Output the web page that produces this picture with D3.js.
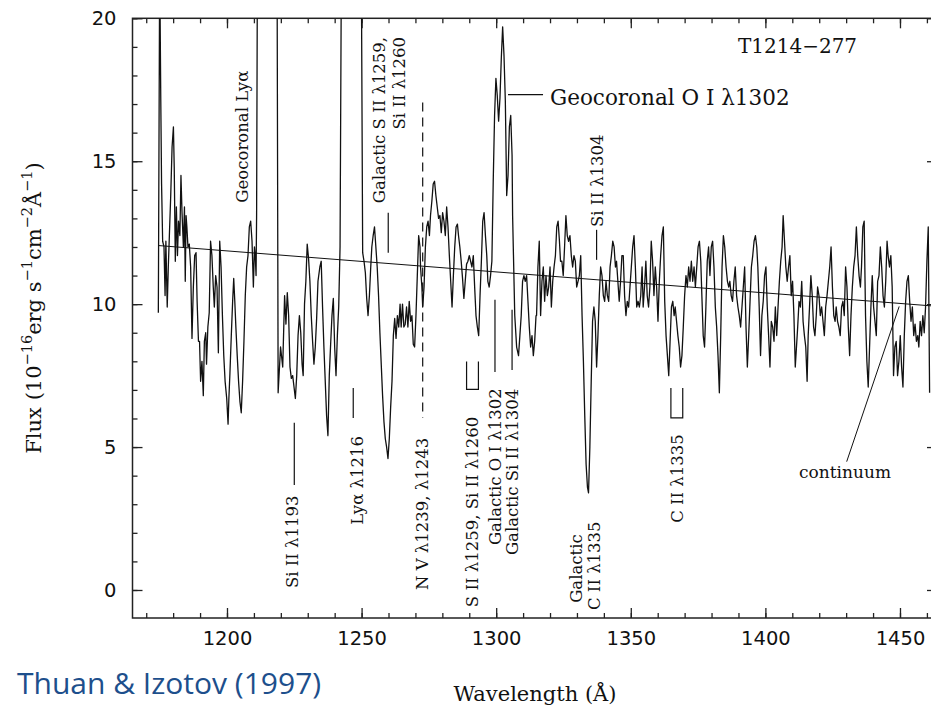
<!DOCTYPE html>
<html>
<head>
<meta charset="utf-8">
<script src="https://cdn.jsdelivr.net/npm/d3@7"></script>
<style>
  body { margin: 0; background: #fff; }
  text { fill: #111; }
</style>
</head>
<body>
<svg id="chart" width="931" height="710"></svg>
<script>
// spectrum of T1214-277 in chunks (wavelength A, flux 1e-16)
// 22 = off the top of the plot (clipped)
let specA = [[1174.5,9.7],[1175.0,22],[1175.4,17.2],[1175.7,14.2],[1176.1,12.2],[1176.6,12.0],[1177.0,10.3],[1177.3,12.2],[1177.8,9.9],[1178.2,11.3],[1178.6,12.4],[1179.1,13.8],[1179.6,15.5],[1180.1,16.2],[1180.4,14.8],[1180.8,11.5],[1181.2,13.4],[1181.6,11.7],[1182.0,12.9],[1182.5,12.4],[1182.9,14.5],[1183.3,13.2],[1183.8,12.0],[1184.2,13.4],[1184.5,10.8],[1184.8,13.1],[1185.1,12.7],[1185.5,12.0],[1186.0,12.1],[1186.5,11.3],[1187.0,8.8],[1187.5,10.6],[1188.0,11.7],[1188.5,11.8],[1188.9,10.1],[1189.4,8.7],[1189.8,8.7],[1190.2,7.3],[1190.7,8.0],[1191.2,6.8],[1191.6,8.7],[1192.1,9.0],[1192.4,7.9],[1192.9,9.2],[1193.4,9.7],[1193.9,12.2],[1194.4,11.7],[1194.9,10.6],[1195.3,9.9],[1195.8,11.0],[1196.3,10.6],[1196.8,8.3],[1197.3,12.2],[1197.8,11.3],[1198.3,9.6],[1198.8,8.2],[1199.3,7.3],[1199.9,6.7],[1200.4,5.8],[1200.7,6.7],[1201.1,7.6],[1201.6,8.9],[1202.1,10.1],[1202.5,10.9],[1202.9,10.1],[1203.3,9.2],[1203.8,8.2],[1204.3,7.3],[1204.8,6.6],[1205.3,6.2],[1205.8,7.3],[1206.3,8.7],[1206.8,10.3],[1207.3,11.3],[1207.8,11.7],[1208.3,12.7],[1208.8,12.9],[1209.3,12.2],[1209.8,10.6],[1210.2,12.0],[1210.5,11.7],[1210.8,11.0],[1211.0,13.1],[1211.3,22]];

let specB = [[1218.6,22],[1219.0,6.9],[1219.9,8.5],[1220.7,7.8],[1221.4,10.3],[1221.9,9.3],[1222.4,10.4],[1222.9,9.6],[1223.4,7.8],[1223.9,7.4],[1224.4,7.5],[1224.9,7.1],[1225.4,6.7],[1225.9,7.5],[1226.4,8.9],[1226.9,9.6],[1227.4,9.0],[1227.9,7.9],[1228.3,7.5],[1228.8,10.0],[1229.3,10.8],[1229.8,12.1],[1230.3,11.6],[1230.8,10.8],[1231.3,9.6],[1231.8,8.7],[1232.3,7.9],[1232.8,8.5],[1233.3,9.5],[1233.8,10.8],[1234.5,11.3],[1235.0,11.5],[1235.5,9.9],[1236.0,8.5],[1236.5,7.3],[1237.0,6.1],[1237.5,5.4],[1238.0,7.5],[1238.5,8.6],[1239.0,9.6],[1239.5,10.2],[1240.0,8.5],[1240.5,7.5],[1241.0,8.9],[1241.5,9.9],[1242.0,12.0],[1242.5,22],[1249.9,22],[1250.4,11.8],[1250.9,11.5],[1251.4,11.1],[1251.9,10.2],[1252.4,9.6],[1252.9,10.3],[1253.4,11.3],[1253.8,12.0],[1254.3,12.4],[1254.8,12.7],[1255.3,12.0],[1255.8,11.3],[1256.3,10.3],[1256.8,9.0],[1257.3,7.9],[1257.8,6.8],[1258.3,5.9],[1258.8,5.3],[1259.3,5.0],[1259.8,4.6],[1260.3,5.3],[1260.8,6.4],[1261.3,7.3],[1261.8,8.9],[1262.3,9.5],[1262.8,8.8],[1263.3,9.6],[1263.8,9.2],[1264.3,10.0],[1264.7,9.2],[1265.2,10.0],[1265.7,9.2],[1266.2,9.3],[1266.7,9.9],[1267.2,9.2]];

let specC = [[1267.7,10.1],[1268.2,9.4],[1268.7,9.6],[1269.2,8.6],[1269.7,8.5],[1270.2,9.6],[1270.7,11.0],[1271.2,12.4],[1271.7,12.0],[1271.9,11.3],[1272.4,10.6],[1272.7,9.9],[1273.2,10.6],[1273.7,12.0],[1274.2,12.7],[1274.7,12.9],[1275.2,12.4],[1275.6,13.1],[1276.1,13.6],[1276.6,14.2],[1277.1,14.3],[1277.6,13.8],[1278.1,13.4],[1278.6,13.0],[1279.1,13.1],[1279.6,12.5],[1280.1,13.2],[1280.6,12.9],[1281.1,12.4],[1281.6,13.4],[1282.1,12.7],[1282.6,11.7],[1283.1,10.8],[1283.6,9.9],[1284.1,11.0],[1284.6,12.0],[1285.1,12.7],[1285.6,12.8],[1286.0,12.4],[1286.5,12.0],[1287.0,11.5],[1287.5,10.9],[1288.0,10.2],[1288.5,10.8],[1289.0,11.4],[1289.5,11.5],[1290.0,11.7],[1290.5,11.5],[1291.0,11.3],[1291.5,11.7],[1292.0,10.6],[1292.5,9.6],[1293.0,9.2],[1293.5,8.9],[1294.0,10.3],[1294.5,11.5],[1295.0,12.9],[1295.5,13.2],[1296.0,12.4],[1296.5,11.7],[1296.9,10.8],[1297.4,10.6],[1297.9,11.0],[1298.4,11.5],[1298.9,14.3],[1299.4,16.6],[1299.9,17.9],[1300.4,17.3],[1300.9,16.4],[1301.4,17.2],[1301.9,18.6],[1302.4,19.7],[1302.9,18.7],[1303.4,17.1],[1303.9,13.8],[1304.4,14.5],[1304.9,16.2],[1305.4,16.6],[1305.9,15.2],[1306.1,13.1],[1306.9,9.6],[1307.6,8.5],[1308.3,8.2],[1308.8,8.9],[1309.3,9.6],[1309.8,10.8],[1310.3,11.0],[1310.8,10.8],[1311.3,11.0],[1311.8,10.1],[1312.3,9.2],[1312.8,8.5],[1313.3,8.9],[1313.8,8.2],[1314.3,8.7],[1314.8,9.6]];

let specD = [[1315.0,9.6],[1315.5,11.3],[1316.0,12.2],[1316.5,9.6],[1317.0,10.8],[1317.5,11.3],[1318.0,10.1],[1318.5,11.0],[1319.0,10.3],[1319.5,10.6],[1320.0,11.3],[1320.5,9.9],[1321.0,10.8],[1321.5,11.3],[1322.0,11.7],[1322.5,12.7],[1323.0,12.9],[1323.5,12.2],[1323.9,11.5],[1324.4,11.5],[1324.9,11.0],[1325.4,12.0],[1325.9,13.1],[1326.4,12.4],[1326.9,12.2],[1327.4,12.4],[1327.9,11.7],[1328.4,11.3],[1328.9,11.7],[1329.4,11.5],[1329.9,10.6],[1330.4,10.8],[1330.9,11.0],[1331.4,11.7],[1331.9,9.6],[1332.4,8.0],[1332.9,6.1],[1333.4,4.4],[1333.9,3.6],[1334.3,3.4],[1334.8,5.0],[1335.3,7.3],[1335.8,9.4],[1336.3,9.9],[1336.8,9.4],[1337.3,7.8],[1337.8,8.9],[1338.3,10.3],[1338.8,11.3],[1339.3,11.0],[1339.8,10.3],[1340.3,10.1],[1340.8,10.8],[1341.3,10.3],[1341.8,10.1],[1342.3,11.3],[1342.8,11.7],[1343.3,12.2],[1343.8,12.0],[1344.3,11.3],[1344.7,11.5],[1345.2,10.8],[1345.7,10.1],[1346.2,10.8],[1346.7,11.7],[1347.2,11.7],[1347.7,10.3],[1348.2,9.6],[1348.7,10.1],[1349.2,9.9],[1349.7,10.6],[1350.2,11.3],[1350.7,12.0],[1351.2,12.4],[1351.7,11.3],[1352.2,9.9],[1352.7,10.1],[1353.2,9.9],[1353.7,10.3],[1354.2,11.3],[1354.6,9.9],[1355.1,10.6],[1355.6,11.5],[1356.1,10.3],[1356.6,9.9],[1357.1,10.6],[1357.6,12.2],[1358.1,11.5],[1358.6,10.3],[1359.1,11.3],[1359.6,10.6],[1360.1,9.4],[1360.6,10.8],[1361.1,11.7],[1361.6,12.4],[1362.1,12.7]];

let specE = [[1362.6,10.1],[1363.1,8.9],[1363.6,8.2],[1364.1,7.5],[1364.6,8.7],[1365.1,9.9],[1365.6,10.1],[1366.1,9.6],[1366.5,9.9],[1367.0,9.4],[1367.5,8.9],[1368.0,8.5],[1368.5,7.8],[1369.0,8.2],[1369.5,9.2],[1370.0,10.3],[1370.5,11.0],[1371.0,10.6],[1371.5,11.3],[1372.0,10.8],[1372.5,11.5],[1373.0,10.8],[1373.5,11.3],[1374.0,10.6],[1374.5,11.3],[1375.0,12.0],[1375.5,12.2],[1376.0,11.5],[1376.4,10.3],[1376.9,8.9],[1377.4,8.5],[1377.9,9.9],[1378.4,11.5],[1378.9,12.0],[1379.4,11.0],[1379.9,12.0],[1380.4,12.2],[1380.9,11.3],[1381.4,9.9],[1381.9,9.2],[1382.4,8.2],[1382.9,6.9],[1383.4,8.9],[1383.9,11.3],[1384.4,12.4],[1384.9,12.0],[1385.4,11.3],[1385.9,10.8],[1386.4,10.6],[1386.8,10.8],[1387.3,10.3],[1387.8,10.1],[1388.3,10.8],[1388.8,11.3],[1389.3,10.3],[1389.8,9.9],[1390.3,9.6],[1390.8,9.2],[1391.3,9.9],[1391.8,10.6],[1392.3,11.3],[1392.8,9.2],[1393.3,7.8],[1393.8,8.9],[1394.3,10.1],[1394.8,11.3],[1395.3,11.7],[1395.8,12.2],[1396.3,12.4],[1396.8,12.0],[1397.2,11.3],[1397.7,9.9],[1398.2,8.2],[1398.7,9.6],[1399.2,10.1],[1399.7,11.0],[1400.2,11.3],[1400.7,9.9],[1401.2,8.9],[1401.7,7.8],[1402.2,9.4],[1402.7,9.2],[1403.2,8.7],[1403.7,9.9],[1404.2,8.9],[1404.7,9.9],[1405.2,10.8],[1405.7,11.5],[1406.2,12.0],[1406.6,13.1],[1407.1,12.2],[1407.6,11.3],[1408.1,10.8],[1408.6,11.3],[1409.1,11.7],[1409.6,10.3],[1410.1,10.8],[1410.6,9.6],[1411.1,7.8]];

let specF = [[1412.0,9.2],[1412.5,10.1],[1413.0,9.9],[1413.5,10.8],[1414.0,9.4],[1414.5,8.9],[1415.0,8.5],[1415.5,7.3],[1415.9,8.9],[1416.4,9.9],[1416.9,11.0],[1417.4,10.3],[1417.9,9.2],[1418.4,8.9],[1418.9,9.6],[1419.4,10.6],[1419.9,10.3],[1420.4,9.6],[1420.9,9.9],[1421.4,9.4],[1421.9,8.9],[1422.4,9.9],[1422.9,10.3],[1423.4,10.8],[1423.9,11.3],[1424.4,12.0],[1424.9,10.6],[1425.4,9.6],[1425.9,9.4],[1426.3,9.9],[1426.8,9.4],[1427.3,9.2],[1427.8,8.9],[1428.3,9.9],[1428.8,10.1],[1429.3,9.6],[1429.8,11.3],[1430.3,10.6],[1430.8,9.2],[1431.3,8.2],[1431.8,9.6],[1432.3,10.6],[1432.8,11.3],[1433.3,11.7],[1433.8,12.7],[1434.3,11.7],[1434.8,11.0],[1435.3,10.6],[1435.7,11.3],[1436.2,12.7],[1436.7,12.9],[1437.2,9.6],[1437.7,8.0],[1438.2,7.1],[1438.7,8.5],[1439.2,9.9],[1439.7,11.0],[1440.2,9.9],[1440.7,9.4],[1441.2,8.9],[1441.7,10.8],[1442.2,11.0],[1442.7,12.0],[1443.2,11.3],[1443.7,10.3],[1444.2,9.9],[1444.7,10.8],[1445.2,12.2],[1445.6,11.7],[1446.1,11.3],[1446.6,11.7],[1447.1,10.6],[1447.6,7.5],[1448.1,8.5],[1448.6,8.7],[1449.1,7.5],[1449.6,8.0],[1450.1,8.9],[1450.6,7.8],[1451.1,7.1],[1451.6,8.9],[1452.1,10.1],[1452.6,10.8],[1453.1,11.0],[1453.6,10.1],[1454.1,9.4],[1454.6,9.9],[1455.1,8.9],[1455.6,9.3],[1456.1,8.7],[1456.6,8.9],[1457.0,8.5],[1457.5,9.4],[1458.0,8.9],[1458.5,9.6],[1459.0,9.0],[1459.5,9.9],[1460.0,11.5],[1460.5,12.7],[1461.0,6.9]];

let continuum = [[1174.5, 12.05], [1461.5, 9.94]];

let xMajorTicks = [1200, 1250, 1300, 1350, 1400, 1450];
let yMajorTicks = [0, 5, 10, 15, 20];

// rotated line ids, placed by the bottom end of the text (wavelength, flux)
let sideLabels = [
  { text: 'Geocoronal Lyα', w: 1205.6, f: 13.55 },
  { text: 'Si II λ1193', w: 1224.3, f: 0.07 },
  { text: 'Lyα λ1216', w: 1248.3, f: 2.28 },
  { text: 'N V λ1239, λ1243', w: 1272.8, f: 0.0 },
  { text: 'S II λ1259, Si II λ1260', w: 1291.2, f: -0.6 },
  { text: 'Galactic O I λ1302', w: 1299.9, f: 1.57 },
  { text: 'Galactic Si II λ1304', w: 1305.9, f: 1.22 },
  { text: 'Galactic', w: 1329.8, f: -0.45 },
  { text: 'C II λ1335', w: 1336.5, f: -0.7 },
  { text: 'C II λ1335', w: 1367.5, f: 2.35 },
  { text: 'Si II λ1304', w: 1337.8, f: 12.7 }
];
// these two hang from the top (anchored at their upper end)
let hangLabels = [
  { text: 'Galactic S II λ1259,', w: 1256.8, f: 19.35 },
  { text: 'Si II λ1260', w: 1264.1, f: 19.35 }
];
let markLines = [
  { w: 1225.0, f0: 5.85, f1: 3.67 },
  { w: 1246.9, f0: 7.07, f1: 6.02 },
  { w: 1259.9, f0: 13.2, f1: 11.8 },
  { w: 1299.55, f0: 7.63, f1: 10.15 },
  { w: 1305.9, f0: 7.7, f1: 9.8 },
  { w: 1337.3, f0: 12.6, f1: 11.55 }
];
let dashLine = { w: 1272.7, f0: 17.05, f1: 6.02 };
let brackets = [
  { w0: 1289.0, w1: 1293.4, f0: 7.99, f1: 7.02 },
  { w0: 1364.9, w1: 1369.3, f0: 7.07, f1: 6.02 }
];

const svg = d3.select('#chart');
const plotL = 132.5, plotR = 937, plotT = 18.3, plotB = 618;

const x = d3.scaleLinear().domain([1164.9, 1463.75]).range([plotL, plotR]);
const y = d3.scaleLinear().domain([-0.98, 20]).range([plotB, plotT]);

svg.append('defs').append('clipPath').attr('id', 'plot')
  .append('rect').attr('x', plotL).attr('y', plotT)
  .attr('width', plotR - plotL).attr('height', plotB - plotT);

// axes, ticks pointing inward
const xMinor = d3.range(1170, 1461, 10);
const yMinor = d3.range(0, 21, 1);

function styleAxis(g) {
  g.select('.domain').remove();
  g.selectAll('line').attr('stroke', '#222').attr('stroke-width', 1.3);
  g.selectAll('text').attr('fill', '#111')
    .style('font-family', 'DejaVu Sans, sans-serif').style('font-size', '19.5px');
}

svg.append('g').attr('transform', `translate(0,${plotB})`)
  .call(d3.axisBottom(x).tickValues(xMajorTicks).tickSizeInner(-10).tickSizeOuter(0)
    .tickPadding(13).tickFormat(d3.format('d')))
  .call(styleAxis);
svg.append('g').attr('transform', `translate(0,${plotB})`)
  .call(d3.axisBottom(x).tickValues(xMinor).tickSizeInner(-5).tickSizeOuter(0).tickFormat(''))
  .call(styleAxis);
svg.append('g').attr('transform', `translate(0,${plotT})`)
  .call(d3.axisTop(x).tickValues(xMajorTicks).tickSizeInner(-10).tickSizeOuter(0).tickFormat(''))
  .call(styleAxis);
svg.append('g').attr('transform', `translate(0,${plotT})`)
  .call(d3.axisTop(x).tickValues(xMinor).tickSizeInner(-5).tickSizeOuter(0).tickFormat(''))
  .call(styleAxis);

svg.append('g').attr('transform', `translate(${plotL},0)`)
  .call(d3.axisLeft(y).tickValues(yMajorTicks).tickSizeInner(-10).tickSizeOuter(0)
    .tickPadding(16).tickFormat(d3.format('d')))
  .call(styleAxis);
svg.append('g').attr('transform', `translate(${plotL},0)`)
  .call(d3.axisLeft(y).tickValues(yMinor).tickSizeInner(-5).tickSizeOuter(0).tickFormat(''))
  .call(styleAxis);
svg.append('g').attr('transform', `translate(${plotR},0)`)
  .call(d3.axisRight(y).tickValues(yMajorTicks).tickSizeInner(-10).tickSizeOuter(0).tickFormat(''))
  .call(styleAxis);
svg.append('g').attr('transform', `translate(${plotR},0)`)
  .call(d3.axisRight(y).tickValues(yMinor).tickSizeInner(-5).tickSizeOuter(0).tickFormat(''))
  .call(styleAxis);

svg.append('rect')
  .attr('x', plotL).attr('y', plotT)
  .attr('width', plotR - plotL).attr('height', plotB - plotT)
  .attr('fill', 'none').attr('stroke', '#222').attr('stroke-width', 1.5);

// spectrum + continuum
const line = d3.line().x(d => x(d[0])).y(d => y(d[1]));
const spectrum = specA.concat(specB, specC, specD, specE, specF);

const plot = svg.append('g').attr('clip-path', 'url(#plot)');
plot.append('path').datum(spectrum)
  .attr('d', line).attr('fill', 'none')
  .attr('stroke', '#111').attr('stroke-width', 1.3).attr('stroke-linejoin', 'round');
plot.append('path').datum(continuum)
  .attr('d', line).attr('fill', 'none')
  .attr('stroke', '#111').attr('stroke-width', 1);

// annotation marks
const ann = svg.append('g').attr('stroke', '#111').attr('stroke-width', 1.2).attr('fill', 'none');
markLines.forEach(m => {
  ann.append('line').attr('x1', x(m.w)).attr('x2', x(m.w))
    .attr('y1', y(m.f0)).attr('y2', y(m.f1));
});
ann.append('line').attr('x1', x(dashLine.w)).attr('x2', x(dashLine.w))
  .attr('y1', y(dashLine.f0)).attr('y2', y(dashLine.f1))
  .attr('stroke-dasharray', '9,6');
brackets.forEach(b => {
  ann.append('path').attr('d',
    `M${x(b.w0)},${y(b.f0)} L${x(b.w0)},${y(b.f1)} L${x(b.w1)},${y(b.f1)} L${x(b.w1)},${y(b.f0)}`);
});
// geocoronal O I pointer
ann.append('line').attr('x1', x(1304.4)).attr('x2', x(1317.4))
  .attr('y1', y(17.33)).attr('y2', y(17.33));
// continuum pointer
ann.append('line').attr('x1', x(1430.2)).attr('x2', x(1449.7))
  .attr('y1', y(4.49)).attr('y2', y(9.92)).attr('stroke-width', 1);

const serif = 'DejaVu Serif, serif';

svg.selectAll('text.side').data(sideLabels).enter().append('text')
  .attr('class', 'side')
  .attr('transform', d => `translate(${x(d.w)},${y(d.f)}) rotate(-90)`)
  .attr('dominant-baseline', 'central')
  .attr('text-anchor', 'start')
  .style('font-family', serif).style('font-size', '16.5px')
  .text(d => d.text);

svg.selectAll('text.hang').data(hangLabels).enter().append('text')
  .attr('class', 'hang')
  .attr('transform', d => `translate(${x(d.w)},${y(d.f)}) rotate(-90)`)
  .attr('dominant-baseline', 'central')
  .attr('text-anchor', 'end')
  .style('font-family', serif).style('font-size', '16.5px')
  .text(d => d.text);

svg.append('text')
  .attr('x', x(1320.0)).attr('y', y(17.22))
  .attr('dominant-baseline', 'central')
  .style('font-family', serif).style('font-size', '21.5px')
  .text('Geocoronal O I λ1302');

svg.append('text')
  .attr('x', x(1389.8)).attr('y', y(19.02))
  .attr('dominant-baseline', 'central')
  .style('font-family', serif).style('font-size', '20px')
  .text('T1214\u2212277');

svg.append('text')
  .attr('x', x(1429.6)).attr('y', y(4.14))
  .attr('dominant-baseline', 'central').attr('text-anchor', 'middle')
  .style('font-family', serif).style('font-size', '17px')
  .text('continuum');

// axis titles
svg.append('text')
  .attr('x', 535).attr('y', 701)
  .attr('text-anchor', 'middle')
  .style('font-family', serif).style('font-size', '21px')
  .text('Wavelength (Å)');

const yt = svg.append('text')
  .attr('transform', 'translate(41,308) rotate(-90)')
  .attr('text-anchor', 'middle')
  .style('font-family', serif).style('font-size', '21px');
[['Flux (10', 0], ['\u221216', 1], ['erg s', 0], ['\u22121', 1], ['cm', 0], ['\u22122', 1], ['Å', 0], ['\u22121', 1], [')', 0]]
  .forEach(([t, sup], i, arr) => {
    const prevSup = i > 0 ? arr[i - 1][1] : 0;
    const dy = sup && !prevSup ? -9 : (!sup && prevSup ? 9 : 0);
    yt.append('tspan').attr('dy', dy)
      .style('font-size', sup ? '14.5px' : '21px')
      .text(t);
  });

svg.append('text')
  .attr('x', 17).attr('y', 694)
  .style('font-family', 'Open Sans, sans-serif').style('font-size', '30px')
  .style('fill', '#1d4f8c')
  .text('Thuan & Izotov (1997)');
</script>
</body>
</html>
